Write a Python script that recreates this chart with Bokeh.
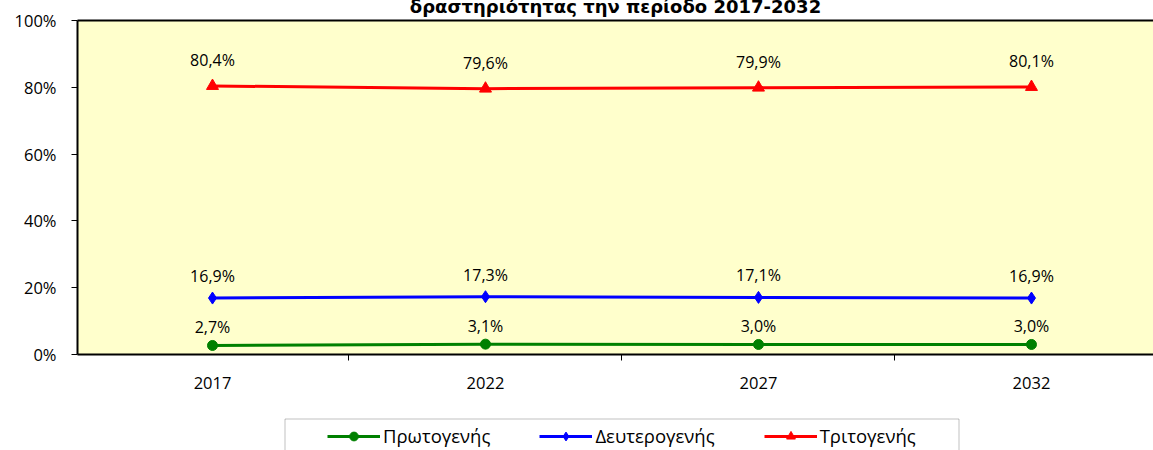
from bokeh.plotting import figure
from bokeh.layouts import column
from bokeh.models import (FixedTicker, Range1d, Legend, LegendItem, LinearAxis,
                          BoxAnnotation, ColumnDataSource)
from bokeh.core.properties import value
from bokeh.embed import file_html
from bokeh.resources import INLINE

# ---- data ----
years = ["2017", "2022", "2027", "2032"]
primary = [2.7, 3.1, 3.0, 3.0]
secondary = [16.9, 17.3, 17.1, 16.9]
tertiary = [80.4, 79.6, 79.9, 80.1]
series_names = ["Πρωτογενής", "Δευτερογενής", "Τριτογενής"]
y_ticks = [0, 20, 40, 60, 80, 100]
y_tick_labels = ["0%", "20%", "40%", "60%", "80%", "100%"]
title_line = "δραστηριότητας την περίοδο 2017-2032"

FONT = "Open Sans"
xs = list(range(len(years)))
colors = ["#008000", "#0000FF", "#FF0000"]
markers = ["circle", "diamond", "triangle"]

FRAME_LEFT = 77
W = 1153

# ---------------- main chart ----------------
SHIFT = 30
p = figure(width=W, height=440, output_backend="svg", toolbar_location=None,
           x_range=Range1d(-0.4945, 3.447), y_range=Range1d(0, 100),
           min_border_left=FRAME_LEFT, min_border_right=0, min_border_top=50,
           min_border_bottom=56,
           background_fill_color="#FFFFCC", border_fill_color="white",
           outline_line_color=None)
p.margin = (-SHIFT, 0, 0, 0)
p.grid.visible = False

# y axis
ya = p.yaxis[0]
ya.ticker = FixedTicker(ticks=y_ticks)
ya.major_label_overrides = dict(zip(y_ticks, y_tick_labels))
ya.axis_line_color = "black"
ya.axis_line_width = 2
ya.major_tick_out = 6
ya.major_tick_in = 0
ya.major_tick_line_color = "black"
ya.minor_tick_line_color = None
ya.major_label_standoff = 15
ya.major_label_text_font = FONT
ya.major_label_text_font_size = "16.5px"
ya.major_label_text_color = "black"

# x axis
xa = p.xaxis[0]
xa.ticker = FixedTicker(ticks=xs, minor_ticks=[i + 0.5 for i in xs[:-1]])
xa.major_label_overrides = {i: y for i, y in zip(xs, years)}
xa.axis_line_color = "black"
xa.axis_line_width = 2
xa.major_tick_out = 0
xa.major_tick_in = 0
xa.minor_tick_out = 6
xa.minor_tick_in = 0
xa.minor_tick_line_color = "black"
xa.major_label_standoff = 16
xa.major_label_text_font = FONT
xa.major_label_text_font_size = "16.5px"
xa.major_label_text_color = "black"

# top axis: frame border + title (second line; the first lies above the page)
ta = LinearAxis(ticker=FixedTicker(ticks=[]), axis_line_color="black", axis_line_width=2,
                major_tick_out=0, major_tick_in=0, minor_tick_out=0, minor_tick_in=0,
                major_label_standoff=0, axis_label=title_line, axis_label_standoff=4,
                axis_label_text_font="DejaVu Sans", axis_label_text_font_size="18px",
                axis_label_text_font_style="bold", axis_label_text_color="black")
p.add_layout(ta, "above")

sizes = [10, 12, 12]
label_offsets = [-18, -22, -26]
for name, vals, c, m, sz, off in zip(series_names, [primary, secondary, tertiary],
                                     colors, markers, sizes, label_offsets):
    src = ColumnDataSource(dict(x=xs, y=vals,
                                lab=[f"{v:.1f}%".replace(".", ",") for v in vals]))
    p.line("x", "y", source=src, line_color=c, line_width=3)
    p.scatter("x", "y", source=src, marker=m, size=sz, fill_color=c, line_color=c)
    p.text("x", "y", text="lab", source=src, text_align="center",
           text_baseline="alphabetic", y_offset=off, text_font=value(FONT),
           text_font_size="16px", text_color="black")

# ---------------- legend strip ----------------
# the column aligns this strip's frame with the chart's frame (FRAME_LEFT .. W)
q = figure(width=W, height=40, output_backend="svg", toolbar_location=None,
           x_range=Range1d(FRAME_LEFT, W), y_range=Range1d(0, 40),
           x_axis_location=None, y_axis_location=None,
           min_border=0, outline_line_color=None, background_fill_color="white",
           border_fill_color="white")
q.grid.visible = False
q.add_layout(BoxAnnotation(left=284.5, right=958.5, top=31.5, bottom=-10,
                           fill_color="white", fill_alpha=1,
                           line_color="#333333", line_width=1))
items = []
for name, c, m, sz in zip(series_names, colors, markers, sizes):
    l = q.line([-50, -40], [-50, -50], line_color=c, line_width=3)
    s = q.scatter([-50], [-50], marker=m, size=sz, fill_color=c, line_color=c)
    items.append(LegendItem(label=name, renderers=[l, s]))

pad = 4
leg = Legend(items=items, orientation="horizontal",
             location=(250, 2),
             glyph_width=53, glyph_height=22, label_standoff=3, spacing=49,
             padding=pad, margin=0, border_line_color=None, background_fill_alpha=0,
             label_text_font=FONT, label_text_font_size="18.5px", label_text_color="black")
q.add_layout(leg)

layout = column(p, q, spacing=0)
open("out.html", "w").write(file_html(layout, INLINE))
